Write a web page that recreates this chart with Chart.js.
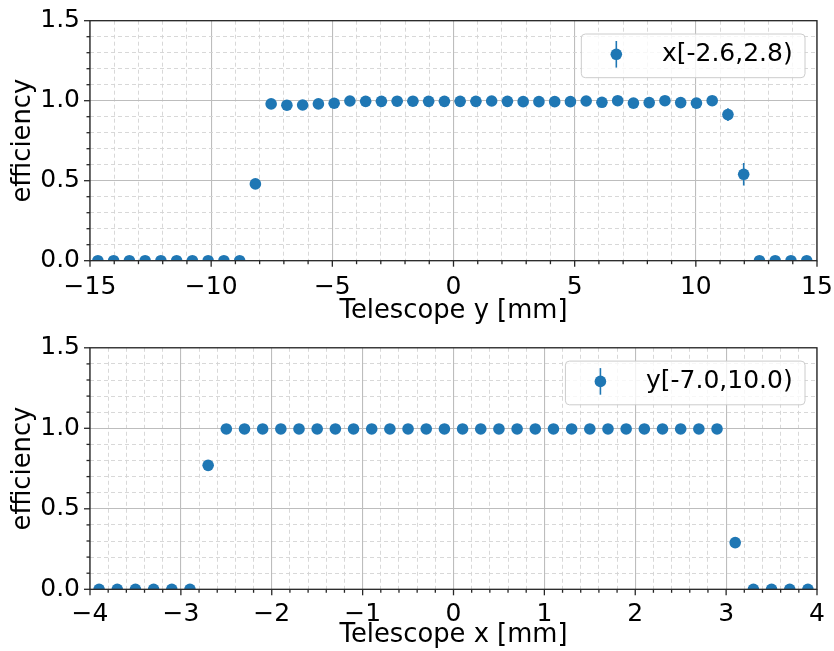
<!DOCTYPE html>
<html>
<head>
<meta charset="utf-8">
<script src="https://cdn.jsdelivr.net/npm/chart.js@4.4.0/dist/chart.umd.min.js"></script>
<style>
html,body{margin:0;padding:0;background:#fff;width:834px;height:651px;overflow:hidden;}
canvas{position:absolute;left:0;}
#c1{top:0;}
#c2{top:325px;}
</style>
</head>
<body>
<canvas id="c1" width="834" height="325"></canvas>
<canvas id="c2" width="834" height="326"></canvas>
<script>
// ---------------- data ----------------
const topLabel = 'x[-2.6,2.8)';
const topX = [-14.675, -14.025, -13.375, -12.725, -12.075, -11.425, -10.775, -10.125, -9.475, -8.825,
  -8.175, -7.525, -6.875, -6.225, -5.575, -4.925, -4.275, -3.625, -2.975, -2.325,
  -1.675, -1.025, -0.375, 0.275, 0.925, 1.575, 2.225, 2.875, 3.525, 4.175,
  4.825, 5.475, 6.125, 6.775, 7.425, 8.075, 8.725, 9.375, 10.025, 10.675,
  11.325, 11.975, 12.625, 13.275, 13.925, 14.575, 15.225];
const topEff = [0, 0, 0, 0, 0, 0, 0, 0, 0, 0,
  0.48, 0.98, 0.972, 0.973, 0.98, 0.984, 0.998, 0.996, 0.996, 0.997,
  0.997, 0.996, 0.996, 0.996, 0.996, 0.998, 0.996, 0.994, 0.994, 0.994,
  0.994, 0.998, 0.99, 1.0, 0.985, 0.988, 1.0, 0.988, 0.985, 1.0,
  0.913, 0.54, 0, 0, 0, 0, 0];
const topErr = [0, 0, 0, 0, 0, 0, 0, 0, 0, 0,
  0.03, 0.01, 0.01, 0.01, 0.01, 0.01, 0.005, 0.005, 0.005, 0.005,
  0.005, 0.005, 0.005, 0.005, 0.005, 0.005, 0.005, 0.005, 0.005, 0.005,
  0.005, 0.005, 0.01, 0.005, 0.01, 0.01, 0.005, 0.01, 0.01, 0.005,
  0.04, 0.07, 0, 0, 0, 0, 0];

const bottomLabel = 'y[-7.0,10.0)';
const bottomX = [-3.9, -3.7, -3.5, -3.3, -3.1, -2.9, -2.7, -2.5, -2.3, -2.1,
  -1.9, -1.7, -1.5, -1.3, -1.1, -0.9, -0.7, -0.5, -0.3, -0.1,
  0.1, 0.3, 0.5, 0.7, 0.9, 1.1, 1.3, 1.5, 1.7, 1.9,
  2.1, 2.3, 2.5, 2.7, 2.9, 3.1, 3.3, 3.5, 3.7, 3.9];
const bottomEff = [0, 0, 0, 0, 0, 0, 0.77, 0.996, 0.996, 0.996,
  0.996, 0.996, 0.996, 0.996, 0.996, 0.996, 0.996, 0.996, 0.996, 0.996,
  0.996, 0.996, 0.996, 0.996, 0.996, 0.996, 0.996, 0.996, 0.996, 0.996,
  0.996, 0.996, 0.996, 0.996, 0.996, 0.29, 0, 0, 0, 0];
const bottomErr = [0, 0, 0, 0, 0, 0, 0.02, 0.002, 0.002, 0.002,
  0.002, 0.002, 0.002, 0.002, 0.002, 0.002, 0.002, 0.002, 0.002, 0.002,
  0.002, 0.002, 0.002, 0.002, 0.002, 0.002, 0.002, 0.002, 0.002, 0.002,
  0.002, 0.002, 0.002, 0.002, 0.002, 0.02, 0, 0, 0, 0];

const yTitle = 'efficiency';
const topXTitle = 'Telescope y [mm]';
const bottomXTitle = 'Telescope x [mm]';
const topXTicks = {min: -15, max: 15, major: 5, minor: 1};
const bottomXTicks = {min: -4, max: 4, major: 1, minor: 0.2};
const yTicks = {min: 0, max: 1.5, major: 0.5, minor: 0.1};

// ---------------- style ----------------
const FONT_FAMILY = '"DejaVu Sans", "Liberation Sans", sans-serif';
const FS = 25;
const TITLE_FS = 25.8;
const BLUE = '#1f77b4';
const MAJOR_GRID = '#bdbdbd';
const MINOR_GRID = '#d4d4d4';
const SPINE = '#262626';

function isMajor(v, step) {
  const r = v / step;
  return Math.abs(r - Math.round(r)) < 1e-6;
}
function fmtInt(v) {
  const n = Math.round(v);
  return n < 0 ? '\u2212' + Math.abs(n) : String(n);
}
function fmtOne(v) {
  return v < 0 ? '\u2212' + Math.abs(v).toFixed(1) : v.toFixed(1);
}

function axis(t, fmt, title, titleLH, extra) {
  return Object.assign({
    type: 'linear',
    min: t.min,
    max: t.max,
    ticks: {
      stepSize: t.minor,
      autoSkip: false,
      maxRotation: 0,
      minRotation: 0,
      maxTicksLimit: 1000,
      color: '#000',
      font: {family: FONT_FAMILY, size: FS, lineHeight: 1.2},
      callback: (v) => isMajor(v, t.major) ? fmt(v) : ''
    },
    grid: {
      drawTicks: false,
      color: (c) => (c.tick && isMajor(c.tick.value, t.major)) ? MAJOR_GRID : MINOR_GRID,
      lineWidth: (c) => (c.tick && isMajor(c.tick.value, t.major)) ? 1.1 : 0.9
    },
    border: {
      display: false,
      dash: (c) => (c.tick && !isMajor(c.tick.value, t.major)) ? [4, 3] : []
    },
    title: {
      display: true,
      text: title,
      color: '#000',
      font: {family: FONT_FAMILY, size: TITLE_FS, lineHeight: titleLH}
    }
  }, extra);
}

const decorPlugin = {
  id: 'decor',
  beforeDatasetsDraw(chart) {
    const {ctx, chartArea: a} = chart;
    const xs = chart.scales.x, ys = chart.scales.y;
    ctx.save();
    ctx.beginPath();
    ctx.rect(a.left, a.top, a.right - a.left, a.bottom - a.top);
    ctx.clip();
    chart.data.datasets.forEach(ds => {
      const err = ds.errors || [];
      ctx.strokeStyle = ds.backgroundColor;
      ctx.lineWidth = 1.6;
      ds.data.forEach((p, i) => {
        const e = err[i];
        if (!e) return;
        const px = xs.getPixelForValue(p.x);
        ctx.beginPath();
        ctx.moveTo(px, ys.getPixelForValue(p.y - e));
        ctx.lineTo(px, ys.getPixelForValue(p.y + e));
        ctx.stroke();
      });
    });
    ctx.restore();
  },
  afterDatasetsDraw(chart) {
    const {ctx, chartArea: a} = chart;
    const xs = chart.scales.x, ys = chart.scales.y;
    const tx = chart.options.plugins.decor.xt, ty = chart.options.plugins.decor.yt;
    ctx.save();
    ctx.strokeStyle = SPINE;
    ctx.lineWidth = 1.3;
    xs.ticks.forEach(t => {
      const px = xs.getPixelForValue(t.value);
      const len = isMajor(t.value, tx.major) ? 6 : 3.5;
      ctx.beginPath();
      ctx.moveTo(px, a.bottom);
      ctx.lineTo(px, a.bottom + len);
      ctx.stroke();
    });
    ys.ticks.forEach(t => {
      const py = ys.getPixelForValue(t.value);
      const len = isMajor(t.value, ty.major) ? 6 : 3.5;
      ctx.beginPath();
      ctx.moveTo(a.left - len, py);
      ctx.lineTo(a.left, py);
      ctx.stroke();
    });
    ctx.strokeRect(a.left, a.top, a.right - a.left, a.bottom - a.top);
    ctx.restore();
  },
  afterDraw(chart) {
    const {ctx, chartArea: a} = chart;
    const ds = chart.data.datasets[0];
    ctx.save();
    ctx.font = FS + 'px ' + FONT_FAMILY;
    const tw = ctx.measureText(ds.label).width;
    const w = tw + 80.6 + 12.3, h = 43.7;
    const right = a.right - 12, left = right - w, top = a.top + 13.3;
    const r = 4;
    ctx.beginPath();
    ctx.moveTo(left + r, top);
    ctx.lineTo(right - r, top);
    ctx.quadraticCurveTo(right, top, right, top + r);
    ctx.lineTo(right, top + h - r);
    ctx.quadraticCurveTo(right, top + h, right - r, top + h);
    ctx.lineTo(left + r, top + h);
    ctx.quadraticCurveTo(left, top + h, left, top + h - r);
    ctx.lineTo(left, top + r);
    ctx.quadraticCurveTo(left, top, left + r, top);
    ctx.closePath();
    ctx.fillStyle = 'rgba(255,255,255,0.8)';
    ctx.fill();
    ctx.strokeStyle = '#cccccc';
    ctx.lineWidth = 1;
    ctx.stroke();
    const cx = left + 35, cy = top + 20.3;
    ctx.strokeStyle = ds.backgroundColor;
    ctx.lineWidth = 1.6;
    ctx.beginPath();
    ctx.moveTo(cx, cy - 13.3);
    ctx.lineTo(cx, cy + 13.3);
    ctx.stroke();
    ctx.fillStyle = ds.backgroundColor;
    ctx.beginPath();
    ctx.arc(cx, cy, 5.8, 0, Math.PI * 2);
    ctx.fill();
    ctx.fillStyle = '#000';
    ctx.textAlign = 'left';
    ctx.textBaseline = 'middle';
    ctx.fillText(ds.label, left + 80.6, cy);
    ctx.restore();
  }
};

function makeChart(id, xs, ys, errs, label, xt, xTitle, layout) {
  const points = xs.map((x, i) => ({x: x, y: ys[i]}));
  return new Chart(document.getElementById(id), {
    type: 'scatter',
    data: {
      datasets: [{
        label: label,
        data: points,
        errors: errs,
        backgroundColor: BLUE,
        borderColor: BLUE,
        pointRadius: 5.8,
        pointHoverRadius: 5.8,
        pointBorderWidth: 0,
        showLine: false
      }]
    },
    options: {
      responsive: false,
      animation: false,
      events: [],
      layout: {padding: {top: layout.top, right: 17, left: 0, bottom: 0}},
      plugins: {
        legend: {display: false},
        tooltip: {enabled: false},
        decor: {xt: xt, yt: yTicks}
      },
      scales: {
        x: axis(xt, fmtInt, xTitle, 1.0, {
          afterFit: (s) => { s.height = layout.xh; s.paddingLeft = 0; s.paddingRight = 0; }
        }),
        y: axis(yTicks, fmtOne, yTitle, 1.2, {
          afterFit: (s) => { s.width = 90; s.paddingTop = 0; s.paddingBottom = 0; }
        })
      }
    },
    plugins: [decorPlugin]
  });
}

function tuneTitles(ch, tickPad, titlePad) {
  ch.options.scales.x.ticks.padding = tickPad;
  ch.options.scales.x.title.padding = {top: 0, bottom: titlePad};
  ch.options.scales.y.ticks.padding = 10;
  ch.options.scales.y.title.padding = {top: 7.5, bottom: 0};
  ch.update('none');
}

const chTop = makeChart('c1', topX, topEff, topErr, topLabel, topXTicks, topXTitle, {top: 20.7, xh: 64.3});
const chBottom = makeChart('c2', bottomX, bottomEff, bottomErr, bottomLabel, bottomXTicks, bottomXTitle, {top: 22.8, xh: 61.7});
tuneTitles(chTop, 12, 0.5);
tuneTitles(chBottom, 10, 2.6);
</script>
</body>
</html>
